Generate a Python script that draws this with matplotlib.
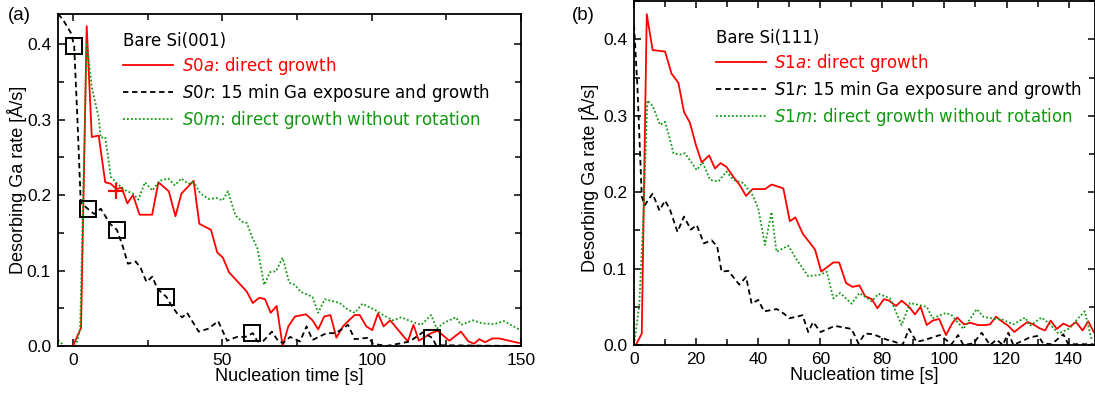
#!/usr/bin/env python3
"""Desorbing Ga rate vs nucleation time on bare Si(001) and Si(111)."""

import matplotlib
matplotlib.use('Agg')
import matplotlib.pyplot as plt
from matplotlib.ticker import MultipleLocator

plt.rcParams['font.family'] = ['Liberation Sans', 'DejaVu Sans']
plt.rcParams['mathtext.fontset'] = 'custom'
plt.rcParams['mathtext.it'] = 'DejaVu Sans:italic'
plt.rcParams['mathtext.rm'] = 'DejaVu Sans'

# ---- (a) bare Si(001) ----
t_s0a = [0, 2.7, 4.6, 6.3, 8.6, 10.8, 12.7, 14.5, 16.3, 18.2, 20.1, 22.3, 26.5, 28.6, 32.1,
         34.3, 36.3, 40.4, 42.3, 46.2, 48.3, 50.2, 52.2, 58.2, 60.2, 62.4, 64.3, 66.2, 68.2, 70.2,
         72.1, 74.3, 78.0, 80.2, 82.1, 84.1, 86.2, 88.2, 90.4, 92.4, 94.3, 96.0, 98.2, 100.2, 102.1,
         104.0, 106.2, 112.1, 114.0, 115.8, 119.9, 122.1, 126.0, 129.9, 132.4, 134.3, 136.0, 138.0,
         140.4, 142.7, 149.3]
r_s0a = [0, 0.024, 0.424, 0.277, 0.279, 0.217, 0.215, 0.208, 0.210, 0.189, 0.200, 0.174, 0.174, 0.217, 0.205,
         0.172, 0.202, 0.219, 0.162, 0.154, 0.124, 0.117, 0.098, 0.072, 0.057, 0.064, 0.062, 0.044, 0.053, 0.0,
         0.026, 0.039, 0.042, 0.034, 0.022, 0.039, 0.041, 0.011, 0.026, 0.034, 0.041, 0.041, 0.026, 0.021, 0.043,
         0.026, 0.034, 0.006, 0.028, 0.007, 0.017, 0.020, 0.007, 0.019, 0.006, 0.003, 0.009, 0.005,
         0.010, 0.010, 0.004]

t_s0r = [-5, -3.4, -0.7, 0.4, 1.5, 2.6, 4.9, 7.1, 9.3, 12.4, 14.7, 16.6, 18.4, 21.0, 22.7,
         24.6, 26.6, 28.2, 31.3, 32.9, 34.9, 36.6, 38.2, 42.1, 45.4, 48.6, 51.6, 54.9, 57.7, 60.2,
         61.8, 63.8, 66.6, 68.8, 70.4, 72.7, 76.0, 78.2, 80.2, 84.9, 88.0, 92.1, 94.3, 99.1, 100.4,
         104.9, 110.4, 112.7, 117.1, 120.2, 121.6, 150]
r_s0r = [0.44, 0.433, 0.415, 0.398, 0.30, 0.19, 0.182, 0.175, 0.182, 0.162, 0.154, 0.133, 0.109, 0.112, 0.103,
         0.085, 0.092, 0.076, 0.065, 0.054, 0.043, 0.038, 0.044, 0.019, 0.023, 0.033, 0.007, 0.012, 0.012, 0.017,
         0.006, 0.007, 0.019, 0.006, 0.004, 0.012, 0.006, 0.026, 0.008, 0.017, 0.017, 0.028, 0.009, 0.011, 0.003,
         0.0, 0.004, 0.006, 0.018, 0.011, 0.001, 0.0]

t_s0m = [-5, -2.9, 1.0, 2.4, 4.6, 6.3, 8.6, 9.3, 10.8, 12.7, 15.4, 17.7, 20.1, 21.9, 24.1,
         26.6, 29.0, 31.9, 34.1, 36.3, 38.6, 40.4, 42.7, 45.4, 48.2, 50.1, 51.9, 54.4, 56.9, 58.2,
         59.9, 61.8, 64.0, 66.0, 68.0, 70.2, 72.4, 74.3, 76.2, 80.2, 82.1, 84.3, 89.3, 92.1, 94.3,
         96.9, 101.0, 104.3, 107.1, 109.9, 113.6, 116.6, 119.9, 121.8, 124.3, 128.2, 129.9, 133.8, 137.1, 141.0,
         144.3, 149.3]
r_s0m = [0.008, 0.0, 0.0, 0.023, 0.402, 0.343, 0.303, 0.276, 0.277, 0.224, 0.213, 0.206, 0.202, 0.194, 0.217,
         0.206, 0.219, 0.222, 0.213, 0.222, 0.215, 0.217, 0.202, 0.195, 0.196, 0.193, 0.205, 0.173, 0.164, 0.163,
         0.145, 0.129, 0.081, 0.098, 0.099, 0.117, 0.084, 0.081, 0.072, 0.065, 0.044, 0.062, 0.057, 0.048, 0.044,
         0.056, 0.048, 0.040, 0.034, 0.038, 0.032, 0.028, 0.041, 0.023, 0.031, 0.038, 0.028, 0.034, 0.030, 0.029,
         0.033, 0.022]

# sample points marked on the S0r curve, and the cross on S0a
t_sq = [0.4, 4.9, 14.7, 31.3, 59.9, 120.2]
r_sq = [0.398, 0.182, 0.154, 0.065, 0.017, 0.011]
t_cross = [14.3]
r_cross = [0.206]

# ---- (b) bare Si(111) ----
t_s1a = [0, 0.6, 2.5, 4.1, 6.0, 10.0, 12.1, 14.3, 16.1, 18.0, 20.0, 21.8, 24.2, 26.1, 27.9,
         29.8, 32.0, 34.1, 36.1, 38.2, 42.2, 44.3, 48.1, 50.2, 52.0, 54.3, 58.3, 60.3, 64.2, 66.1,
         68.3, 70.4, 72.6, 74.4, 76.6, 78.4, 80.5, 82.2, 84.4, 86.2, 88.6, 90.5, 92.3, 94.3, 96.2,
         98.3, 100.5, 102.6, 104.1, 106.3, 108.4, 110.9, 113.0, 114.7, 116.6, 118.8, 120.6, 122.5, 124.7, 126.7,
         128.6, 130.6, 132.4, 134.2, 136.2, 138.3, 140.4, 142.4, 144.5, 146.3, 148.1]
r_s1a = [0, 0, 0.015, 0.433, 0.386, 0.384, 0.355, 0.343, 0.305, 0.291, 0.261, 0.239, 0.248, 0.231, 0.238,
         0.233, 0.220, 0.209, 0.195, 0.204, 0.204, 0.210, 0.205, 0.162, 0.167, 0.146, 0.125, 0.096, 0.108, 0.108,
         0.081, 0.076, 0.078, 0.064, 0.060, 0.048, 0.060, 0.058, 0.051, 0.058, 0.050, 0.040, 0.050, 0.026, 0.032,
         0.034, 0.013, 0.029, 0.036, 0.027, 0.029, 0.026, 0.026, 0.027, 0.037, 0.030, 0.025, 0.017, 0.024, 0.030,
         0.027, 0.022, 0.019, 0.032, 0.021, 0.028, 0.024, 0.030, 0.019, 0.031, 0.017]

t_s1r = [0, 1.1, 2.5, 3.5, 4.6, 6.0, 8.2, 10.0, 11.6, 14.0, 16.1, 18.3, 20.2, 22.5, 25.0,
         26.8, 28.2, 30.4, 33.9, 36.1, 37.9, 40.0, 41.9, 46.0, 48.3, 50.0, 52.4, 54.3, 56.1, 57.7,
         60.1, 64.7, 70.1, 72.3, 74.4, 77.1, 81.4, 84.1, 86.5, 88.6, 91.0, 94.0, 98.5, 102.3, 104.4,
         106.1, 109.3, 112.0, 114.7, 116.8, 118.8, 120.6, 122.2, 126.0, 127.5, 130.2, 131.8, 134.5, 138.3, 139.9,
         143.6, 148.0]
r_s1r = [0.419, 0.338, 0.194, 0.183, 0.190, 0.198, 0.176, 0.189, 0.177, 0.148, 0.168, 0.151, 0.157, 0.133, 0.137,
         0.129, 0.096, 0.097, 0.079, 0.089, 0.054, 0.059, 0.044, 0.047, 0.041, 0.035, 0.037, 0.039, 0.017, 0.030,
         0.017, 0.025, 0.021, 0.002, 0.015, 0.014, 0.007, 0.004, 0.0, 0.021, 0.004, 0.007, 0.013, 0.001, 0.013,
         0.0, 0.002, 0.016, 0.0, 0.007, 0.0, 0.016, 0.0, 0.007, 0.010, 0.012, 0.002, 0.001, 0.014, 0.001,
         0.001, 0.001]

t_s1m = [0, 1.7, 3.0, 4.3, 6.0, 8.4, 10.0, 11.6, 12.7, 14.6, 16.4, 20.2, 22.1, 24.5, 27.2,
         29.8, 32.0, 35.2, 38.2, 40.0, 42.2, 44.3, 45.9, 49.7, 52.2, 56.1, 60.1, 62.1, 64.2, 66.4,
         70.1, 72.6, 76.6, 78.7, 82.5, 86.2, 88.9, 94.3, 96.2, 100.5, 102.3, 106.1, 110.4, 112.5, 116.3,
         118.8, 122.2, 126.0, 127.5, 131.3, 134.0, 136.7, 140.4, 143.1, 145.2, 147.4]
r_s1m = [0.0, 0.052, 0.168, 0.320, 0.313, 0.288, 0.292, 0.269, 0.251, 0.249, 0.251, 0.229, 0.239, 0.216, 0.214,
         0.227, 0.216, 0.212, 0.196, 0.179, 0.131, 0.174, 0.122, 0.130, 0.113, 0.090, 0.092, 0.096, 0.061, 0.068,
         0.054, 0.068, 0.057, 0.067, 0.061, 0.026, 0.055, 0.050, 0.035, 0.042, 0.039, 0.021, 0.047, 0.037, 0.034,
         0.033, 0.027, 0.036, 0.025, 0.036, 0.027, 0.015, 0.022, 0.035, 0.044, 0.007]

RED = '#ff0000'
GREEN = '#119911'
DASH = (0, (3.0, 2.0))
DOT = (0, (1.0, 1.2))
LEG_FONT = {'family': 'DejaVu Sans', 'size': 12}

fig = plt.figure(figsize=(10.95, 3.98), dpi=100)
ax_a = fig.add_axes([0.053, 0.1307, 0.4228, 0.834])
ax_b = fig.add_axes([0.579, 0.1332, 0.421, 0.864])


def style_axis(ax, xmajor, xminor):
    ax.xaxis.set_major_locator(MultipleLocator(xmajor))
    ax.xaxis.set_minor_locator(MultipleLocator(xminor))
    ax.yaxis.set_major_locator(MultipleLocator(0.1))
    ax.yaxis.set_minor_locator(MultipleLocator(0.05))
    ax.yaxis.set_major_formatter(matplotlib.ticker.FormatStrFormatter('%.1f'))
    ax.tick_params(which='both', direction='in', top=True, right=True, labelsize=12.5, width=1.1)
    ax.tick_params(which='major', length=5, pad=5)
    ax.tick_params(which='minor', length=4)
    for sp in ax.spines.values():
        sp.set_linewidth(1.3)
    ax.set_xlabel('Nucleation time [s]', fontsize=13, labelpad=0)
    ax.set_ylabel('Desorbing Ga rate [Å/s]', fontsize=13)


# (a)
ax_a.plot(t_s0a, r_s0a, color=RED, lw=1.3, label=r'$\mathit{S0a}$: direct growth')
ax_a.plot(t_s0r, r_s0r, color='black', lw=1.3, linestyle=DASH,
          label=r'$\mathit{S0r}$: 15 min Ga exposure and growth')
ax_a.plot(t_s0m, r_s0m, color=GREEN, lw=1.3, linestyle=DOT,
          label=r'$\mathit{S0m}$: direct growth without rotation')
ax_a.plot(t_sq, r_sq, linestyle='none', marker='s', markersize=11, mfc='none',
          mec='black', mew=1.4)
ax_a.plot(t_cross, r_cross, linestyle='none', marker='+', markersize=12, color=RED, mew=1.6)
ax_a.set_xlim(-5, 150)
ax_a.set_ylim(0, 0.44)
style_axis(ax_a, 50, 25)
ax_a.yaxis.set_label_coords(-0.068, 0.5)

leg_a = ax_a.legend(loc='upper left', bbox_to_anchor=(0.141, 0.945), frameon=False,
                    title='Bare Si(001)', alignment='left', prop=LEG_FONT,
                    title_fontproperties=LEG_FONT, handlelength=3.0, handletextpad=0.5,
                    labelspacing=0.3, borderpad=0, borderaxespad=0, labelcolor='linecolor')

# (b)
ax_b.plot(t_s1a, r_s1a, color=RED, lw=1.3, label=r'$\mathit{S1a}$: direct growth')
ax_b.plot(t_s1r, r_s1r, color='black', lw=1.3, linestyle=DASH,
          label=r'$\mathit{S1r}$: 15 min Ga exposure and growth')
ax_b.plot(t_s1m, r_s1m, color=GREEN, lw=1.3, linestyle=DOT,
          label=r'$\mathit{S1m}$: direct growth without rotation')
ax_b.set_xlim(0, 148.5)
ax_b.set_ylim(0, 0.45)
style_axis(ax_b, 20, 10)
ax_b.yaxis.set_label_coords(-0.077, 0.485)

leg_b = ax_b.legend(loc='upper left', bbox_to_anchor=(0.178, 0.92), frameon=False,
                    title='Bare Si(111)', alignment='left', prop=LEG_FONT,
                    title_fontproperties=LEG_FONT, handlelength=3.0, handletextpad=0.5,
                    labelspacing=0.3, borderpad=0, borderaxespad=0, labelcolor='linecolor')

fig.text(0.007, 0.96, '(a)', fontsize=13.5, va='center', ha='left')
fig.text(0.522, 0.96, '(b)', fontsize=13.5, va='center', ha='left')

fig.savefig('out.png', dpi=100)
